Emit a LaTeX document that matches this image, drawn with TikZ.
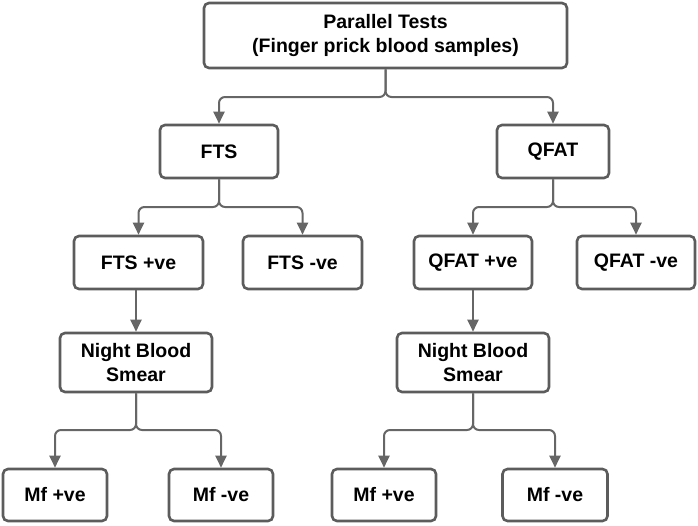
\documentclass[tikz,border=0pt]{standalone}
\usepackage{fontspec}
\setmainfont{Liberation Sans}
\usetikzlibrary{arrows.meta}
\definecolor{boxline}{HTML}{5C5C5C}
\definecolor{linkgray}{HTML}{666666}
\tikzset{
  box/.style={draw=boxline, line width=2.6pt, rounded corners=5pt, fill=white,
    align=center, inner sep=0pt, font=\fontsize{19.5}{24}\selectfont\bfseries},
  link/.style={draw=linkgray, line width=2pt, rounded corners=6pt,
    -{Triangle[length=12pt,width=11pt]}}
}
\begin{document}
\begin{tikzpicture}[x=1pt,y=-1pt]
\useasboundingbox (0,0) rectangle (698,525);
% boxes
\node[box, minimum width=363pt, minimum height=65pt] (top) at (385.5,35.5) {Parallel Tests\\(Finger prick blood samples)};
\node[box, minimum width=118pt, minimum height=53pt] (fts) at (219,151.5) {FTS};
\node[box, minimum width=112pt, minimum height=53pt] (qfat) at (553,151.5) {QFAT};
\node[box, minimum width=129pt, minimum height=53pt] (ftspos) at (138.5,262.5) {FTS +ve};
\node[box, minimum width=119pt, minimum height=53pt] (ftsneg) at (302.5,262.5) {FTS -ve};
\node[box, minimum width=118pt, minimum height=53pt] (qfatpos) at (473,262.5) {QFAT +ve};
\node[box, minimum width=118pt, minimum height=53pt] (qfatneg) at (636,262.5) {QFAT -ve};
\node[box, minimum width=152pt, minimum height=59pt] (smearA) at (136,362.5) {Night Blood\\Smear};
\node[box, minimum width=152pt, minimum height=59pt] (smearB) at (473,362.5) {Night Blood\\Smear};
\node[box, minimum width=104pt, minimum height=52pt] (mfposA) at (55,495) {Mf +ve};
\node[box, minimum width=104pt, minimum height=52pt] (mfnegA) at (221,495) {Mf -ve};
\node[box, minimum width=104pt, minimum height=52pt] (mfposB) at (384,495) {Mf +ve};
\node[box, minimum width=105pt, minimum height=52pt] (mfnegB) at (555,495) {Mf -ve};
% branch levels
\coordinate (lvlA) at (0,97);
\coordinate (lvlB) at (0,207);
\coordinate (lvlC) at (0,430);
% connectors
\draw[link] (top.south) |- (lvlA -| fts.north) -- (fts.north);
\draw[link] (top.south) |- (lvlA -| qfat.north) -- (qfat.north);
\draw[link] (fts.south) |- (lvlB -| ftspos.north) -- (ftspos.north);
\draw[link] (fts.south) |- (lvlB -| ftsneg.north) -- (ftsneg.north);
\draw[link] (qfat.south) |- (lvlB -| qfatpos.north) -- (qfatpos.north);
\draw[link] (qfat.south) |- (lvlB -| qfatneg.north) -- (qfatneg.north);
\draw[link] (ftspos.south -| smearA.north) -- (smearA.north);
\draw[link] (qfatpos.south) -- (smearB.north);
\draw[link] (smearA.south) |- (lvlC -| mfposA.north) -- (mfposA.north);
\draw[link] (smearA.south) |- (lvlC -| mfnegA.north) -- (mfnegA.north);
\draw[link] (smearB.south) |- (lvlC -| mfposB.north) -- (mfposB.north);
\draw[link] (smearB.south) |- (lvlC -| mfnegB.north) -- (mfnegB.north);
\end{tikzpicture}
\end{document}
